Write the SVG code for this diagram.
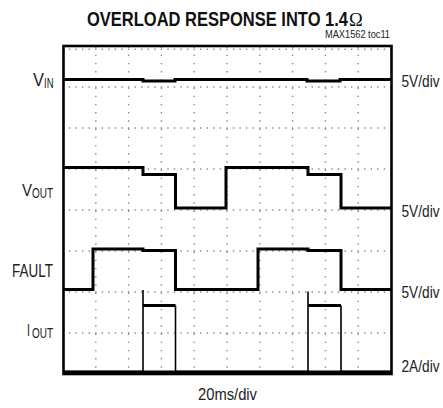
<svg xmlns="http://www.w3.org/2000/svg" width="443" height="408" viewBox="0 0 443 408">
<style>
.lbl{font-family:"Liberation Sans Narrow","Liberation Sans","DejaVu Sans Condensed",sans-serif;fill:#222}
.title{font-family:"Liberation Sans Narrow","Liberation Sans",sans-serif;font-weight:bold;fill:#111}
.gv{stroke:#8a8a8a;stroke-width:1.4;stroke-dasharray:1.4 6.8;fill:none}
.gh{stroke:#8a8a8a;stroke-width:1.4;stroke-dasharray:1.4 5.16;fill:none}
.tr{stroke:#000;stroke-width:3;fill:none;stroke-linejoin:miter}
.thin{stroke:#000;stroke-width:1.6;fill:none}
</style>
<rect width="443" height="408" fill="#fff"/>
<g id="title">
<text class="title" x="87" y="26" font-size="20" textLength="261" lengthAdjust="spacingAndGlyphs">OVERLOAD RESPONSE INTO 1.4</text>
<text x="349" y="26" font-family="Liberation Serif,serif" font-size="18.5" fill="#111">Ω</text>
<text class="lbl" x="325" y="37.5" font-size="10" textLength="65" lengthAdjust="spacingAndGlyphs">MAX1562 toc11</text>
</g>
<g id="grid">
<path class="gv" d="M95.8 46.5V374M128.6 46.5V374M161.4 46.5V374M194.2 46.5V374M227 46.5V374M259.8 46.5V374M292.6 46.5V374M325.4 46.5V374M358.2 46.5V374"/>
<path class="gh" d="M62.3 87H392M62.3 128H392M62.3 169H392M62.3 210H392M62.3 251H392M62.3 292H392M62.3 333H392M62.3 49.3H392"/>
</g>
<g id="frame"><rect x="63.5" y="46" width="328" height="328" fill="none" stroke="#000" stroke-width="2.6"/></g>
<g id="traces">
<path id="vin" class="tr" d="M63 79.5H143V81H175V79.5H307V81H340V79.5H391"/>
<path id="vout" class="tr" d="M63 167.5H143V174.5H175.5V208H226V167.5H308V174.5H341V208H391"/>
<path id="fault" class="tr" d="M63 289.5H93V249H143V250.5H175.5V289.5H258V249H308V250.5H341V289.5H391"/>
<path id="iout" class="thin" d="M63 371.5H143V290M143 305.5V371.5M175.5 305.5V371.5H308V291.5M308 305.5V371.5M341 305.5V371.5H391"/>
<path class="tr" d="M143 305.5H175.5M308 305.5H341M63 372H391"/>
</g>
<g id="labels">
<g id="lbl-vin"><text class="lbl" x="33" y="86" font-size="18" textLength="11" lengthAdjust="spacingAndGlyphs">V</text><text class="lbl" x="44" y="88" font-size="15" textLength="9.5" lengthAdjust="spacingAndGlyphs">IN</text></g>
<g id="lbl-vout"><text class="lbl" x="22" y="196" font-size="16" textLength="10" lengthAdjust="spacingAndGlyphs">V</text><text class="lbl" x="32" y="198.3" font-size="14" textLength="21" lengthAdjust="spacingAndGlyphs">OUT</text></g>
<g id="lbl-fault"><text class="lbl" x="12" y="276.7" font-size="18.5" textLength="41" lengthAdjust="spacingAndGlyphs">FAULT</text></g>
<g id="lbl-iout"><text class="lbl" x="27" y="336" font-size="17" textLength="3" lengthAdjust="spacingAndGlyphs">I</text><text class="lbl" x="32" y="337.7" font-size="14" textLength="21" lengthAdjust="spacingAndGlyphs">OUT</text></g>
<text class="lbl" x="401.5" y="86.7" font-size="16" textLength="38" lengthAdjust="spacingAndGlyphs">5V/div</text>
<text class="lbl" x="401.5" y="216.7" font-size="16" textLength="38" lengthAdjust="spacingAndGlyphs">5V/div</text>
<text class="lbl" x="401.5" y="297.7" font-size="16" textLength="38" lengthAdjust="spacingAndGlyphs">5V/div</text>
<text class="lbl" x="401.5" y="371.7" font-size="16" textLength="38" lengthAdjust="spacingAndGlyphs">2A/div</text>
<text class="lbl" x="198" y="400" font-size="16" textLength="59" lengthAdjust="spacingAndGlyphs">20ms/div</text>
</g>
</svg>
